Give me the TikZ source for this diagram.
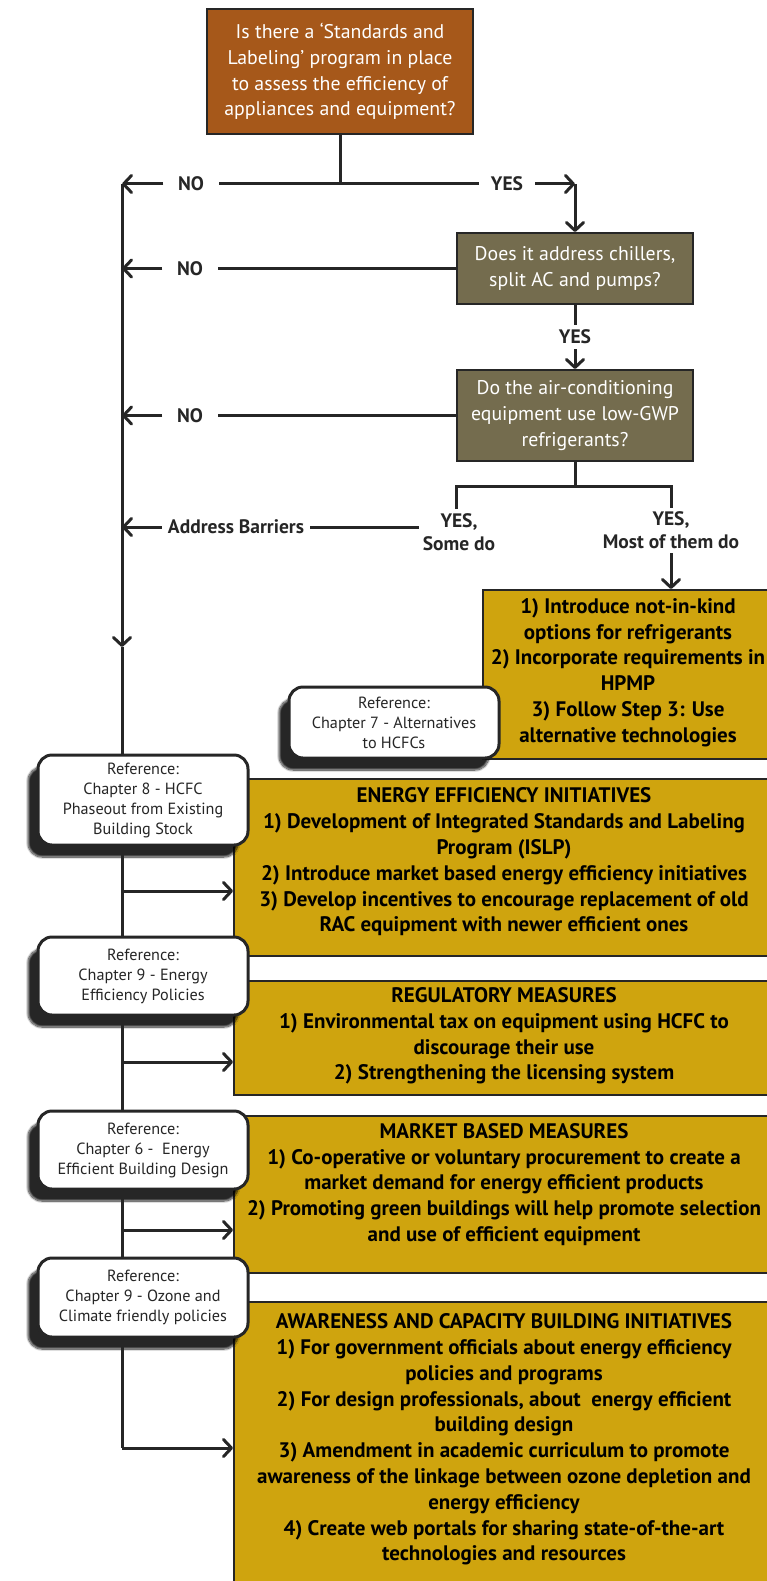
\documentclass[tikz,border=0pt]{standalone}
\usepackage{fontspec}
\setmainfont{PT Sans}
\usetikzlibrary{arrows.meta,shadows.blur}

\definecolor{qbrown}{RGB}{166,88,26}
\definecolor{qolive}{RGB}{116,108,78}
\definecolor{actgold}{RGB}{207,164,14}
\definecolor{ink}{RGB}{38,38,38}

\tikzset{
  flow/.style={draw=ink,line width=3pt},
  arr/.style={flow,-{Straight Barb[length=8pt,width=17pt,round]}},
  qbox/.style={draw=ink,line width=2pt,text=white,align=center,
    font=\fontsize{19.8}{25.8}\selectfont,inner sep=0pt},
  goldbox/.style={draw=ink,line width=2pt,fill=actgold,inner sep=0pt,anchor=north west},
  goldtext/.style={align=center,text=black,font=\bfseries\fontsize{21}{25.8}\selectfont,inner sep=0pt},
  refbox/.style={draw=ink,line width=3pt,fill=white,rounded corners=14pt,align=center,
    text=ink,font=\fontsize{16.2}{20}\selectfont,inner sep=0pt,minimum width=210pt,
    blur shadow={shadow xshift=-10pt,shadow yshift=-12pt,shadow opacity=85,shadow blur steps=12}},
  lbl/.style={align=center,text=ink,font=\bfseries\fontsize{19.5}{23}\selectfont,inner sep=0pt},
}

\begin{document}
\begin{tikzpicture}[x=1pt,y=-1pt]
\useasboundingbox (0,0) rectangle (767,1581);

% questions
\node[qbox,fill=qbrown,minimum width=266pt,minimum height=125pt] (q1) at (340,71.5)
  {Is there a ‘Standards and\\Labeling’ program in place\\to assess the efficiency of\\appliances and equipment?};
\node[qbox,fill=qolive,minimum width=236pt,minimum height=71pt] (q2) at (575,268.5)
  {Does it address chillers,\\split AC and pumps?};
\node[qbox,fill=qolive,minimum width=236pt,minimum height=91pt] (q3) at (575,415.5)
  {Do the air-conditioning\\equipment use low-GWP\\refrigerants?};

% action boxes
\node[goldbox,minimum width=293pt,minimum height=169pt] (altbox) at (482,589) {};
\node[goldbox,minimum width=542pt,minimum height=177pt] (eebox) at (233,778) {};
\node[goldbox,minimum width=542pt,minimum height=114pt] (rmbox) at (233,980) {};
\node[goldbox,minimum width=542pt,minimum height=157pt] (mbbox) at (233,1115) {};
\node[goldbox,minimum width=542pt,minimum height=300pt] (awbox) at (233,1301) {};

\node[goldtext] (alttxt) at (628,672.5) {1) Introduce not-in-kind\\options for refrigerants\\2) Incorporate requirements in\\HPMP\\3) Follow Step 3: Use\\alternative technologies};
\node[goldtext] (eetxt) at (504,862) {ENERGY EFFICIENCY INITIATIVES\\1) Development of Integrated Standards and Labeling\\Program (ISLP)\\2) Introduce market based energy efficiency initiatives\\3) Develop incentives to encourage replacement of old\\RAC equipment with newer efficient ones};
\node[goldtext] (rmtxt) at (504,1036) {REGULATORY MEASURES\\1) Environmental tax on equipment using HCFC to\\discourage their use\\2) Strengthening the licensing system};
\node[goldtext] (mbtxt) at (504,1184.5) {MARKET BASED MEASURES\\1) Co-operative or voluntary procurement to create a\\market demand for energy efficient products\\2) Promoting green buildings will help promote selection\\and use of efficient equipment};
\node[goldtext] (awtxt) at (504,1439.5) {AWARENESS AND CAPACITY BUILDING INITIATIVES\\1) For government officials about energy efficiency\\policies and programs\\2) For design professionals, about\ \ energy efficient\\building design\\3) Amendment in academic curriculum to promote\\awareness of the linkage between ozone depletion and\\energy efficiency\\4) Create web portals for sharing state-of-the-art\\technologies and resources};

% references
\node[refbox,minimum height=71pt] (ref7) at (394,722.5) {Reference:\\Chapter 7 - Alternatives\\to HCFCs};
\node[refbox,minimum height=90pt] (ref8) at (143,800) {Reference:\\Chapter 8 - HCFC\\Phaseout from Existing\\Building Stock};
\node[refbox,minimum height=78pt] (ref9a) at (143,976) {Reference:\\Chapter 9 - Energy\\Efficiency Policies};
\node[refbox,minimum height=78pt] (ref6) at (143,1150) {Reference:\\Chapter 6 -\ \ Energy\\Efficient Building Design};
\node[refbox,minimum height=79pt] (ref9b) at (143,1297.5) {Reference:\\Chapter 9 - Ozone and\\Climate friendly policies};

% labels
\node[lbl,minimum width=55pt] (no1) at (191,184) {NO};
\node[lbl,minimum width=56pt] (yes1) at (507,184) {YES};
\node[lbl,minimum width=55pt] (no2) at (190,268.5) {NO};
\node[lbl,minimum height=24pt] (yes2) at (575,337) {YES};
\node[lbl,minimum width=55pt] (no3) at (190,415.5) {NO};
\node[lbl,inner sep=4pt] (yessome) at (459,532) {YES,\\Some do};
\node[lbl,inner sep=4pt] (yesmost) at (671,530.5) {YES,\\Most of them do};
\node[lbl,minimum width=148pt] (ab) at (236,527) {Address Barriers};

\coordinate (j0) at (340,184);
\coordinate (c1) at (575,184);
\coordinate (n1) at (122,184);
\coordinate (n2) at (122,268.5);
\coordinate (n3) at (122,415.5);
\coordinate (n4) at (122,527);
\coordinate (s0) at (575,486);
\coordinate (sl) at (456,486);
\coordinate (sr) at (671,486);
\coordinate (m0) at (122,647);
\coordinate (b1) at (122,891);
\coordinate (b2) at (122,1062);
\coordinate (b3) at (122,1230);
\coordinate (b4) at (122,1448);

% decisions
\draw[flow] (q1) -- (j0);
\draw[flow] (j0) -- (no1);
\draw[arr] (no1) -- (n1);
\draw[flow] (j0) -- (yes1);
\draw[arr] (yes1) -- (c1);
\draw[arr] (c1) -- (q2);
\draw[flow] (q2) -- (no2);
\draw[arr] (no2) -- (n2);
\draw[flow] (q2) -- (yes2);
\draw[arr] (yes2) -- (q3);
\draw[flow] (q3) -- (no3);
\draw[arr] (no3) -- (n3);
\draw[flow] (q3) -- (s0);
\draw[flow] (sl |- yessome.north) -- (sl) -- (sr) -- (sr |- yesmost.north);
\draw[flow] (yessome.west |- ab) -- (ab);
\draw[arr] (ab) -- (n4);
\draw[arr] (yesmost) -- (yesmost |- altbox.north);

% main line
\draw[arr] (n1) -- (m0);
\draw[flow] (m0) -- (n1 |- ref8.north);
\draw[flow] (n1 |- ref8.south) -- (n1 |- ref9a.north);
\draw[flow] (n1 |- ref9a.south) -- (n1 |- ref6.north);
\draw[flow] (n1 |- ref6.south) -- (n1 |- ref9b.north);
\draw[flow] (n1 |- ref9b.south) -- (b4);
\draw[arr] (b1) -- (b1 -| eebox.west);
\draw[arr] (b2) -- (b2 -| rmbox.west);
\draw[arr] (b3) -- (b3 -| mbbox.west);
\draw[arr] (b4) -- (b4 -| awbox.west);
\end{tikzpicture}
\end{document}
